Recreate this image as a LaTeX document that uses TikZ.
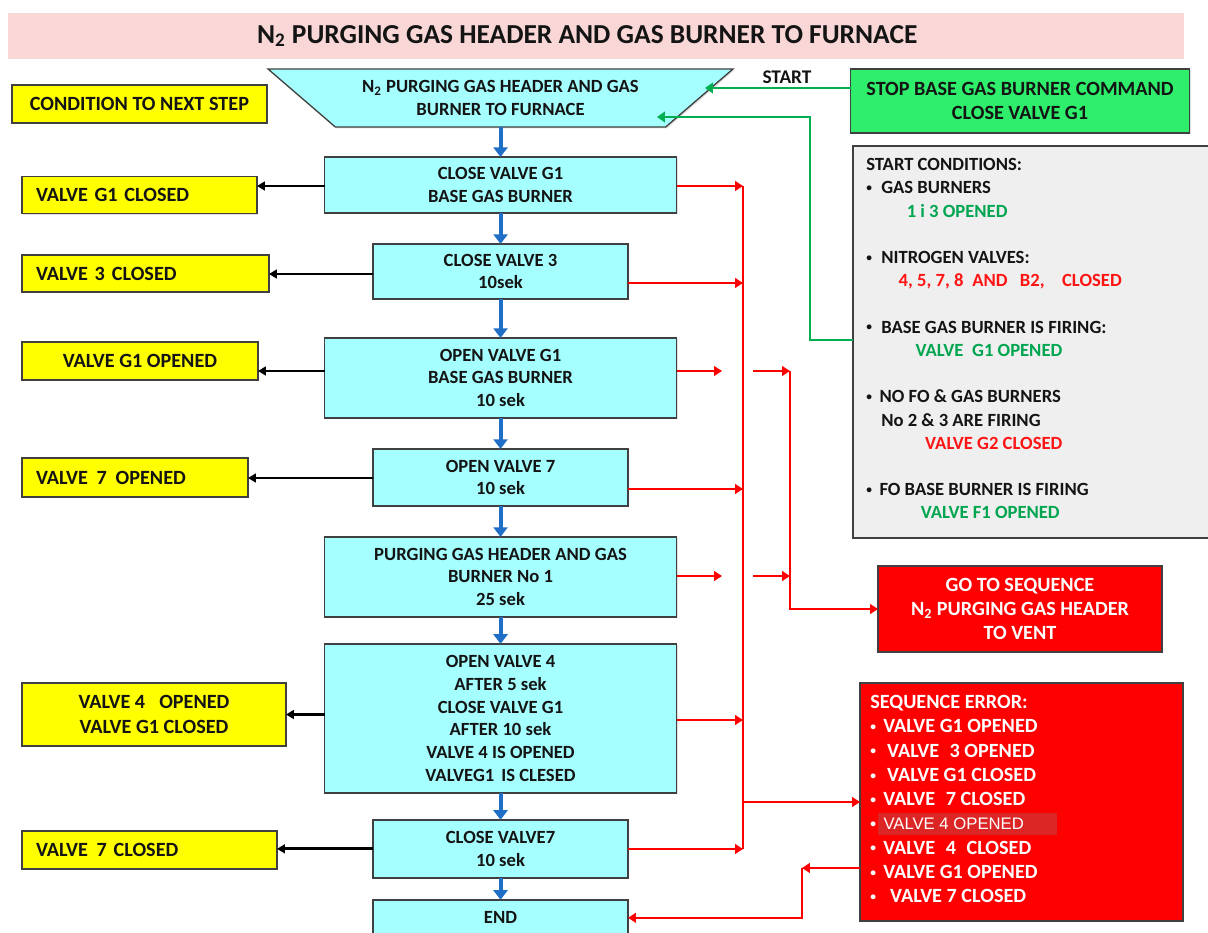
\documentclass[tikz,border=0pt]{standalone}
\usepackage{fontspec}
\setmainfont{Carlito}
\newfontfamily\arialfont{Liberation Sans}
\usetikzlibrary{positioning,shapes.geometric,arrows.meta,shadows}

\definecolor{titlepink}{HTML}{F8D7D6}
\definecolor{stepcyan}{HTML}{A6FFFF}
\definecolor{condyellow}{HTML}{FFFF00}
\definecolor{cmdgreen}{HTML}{2EEE6C}
\definecolor{condgrey}{HTML}{EFEFEF}
\definecolor{errred}{HTML}{FF0000}
\definecolor{errhl}{HTML}{DC2626}
\definecolor{okgreen}{HTML}{00A550}
\definecolor{badred}{HTML}{FF1414}
\definecolor{linegreen}{HTML}{00B050}
\definecolor{lineblue}{HTML}{1F6FC6}
\definecolor{boxline}{HTML}{404040}
\definecolor{ink}{HTML}{141414}

\newcommand{\itemdot}[1]{\makebox[#1][l]{\raisebox{1.2pt}{\fontsize{6.5}{7}\selectfont\textbullet}}}

\tikzset{
  plainbox/.style={draw=boxline, line width=0.75pt, outer sep=0pt, rectangle, drop shadow={shadow xshift=0.8pt, shadow yshift=-0.8pt, opacity=0.25}},
  stepbox/.style={plainbox, fill=stepcyan, text=ink, align=center, inner sep=1pt, font=\bfseries\fontsize{10.6}{12.9}\selectfont},
  widestep/.style={stepbox, minimum width=7.04cm},
  narrowstep/.style={stepbox, minimum width=5.1cm},
  yellowbox/.style={plainbox, fill=condyellow, text=ink, align=center, inner xsep=0.28cm, inner ysep=1pt, font=\bfseries\fontsize{11.5}{14}\selectfont},
  yellowleft/.style={yellowbox, align=left},
  redbox/.style={plainbox, fill=errred, text=white, align=center, font=\bfseries\fontsize{11.5}{13.6}\selectfont},
  blueflow/.style={draw=lineblue, line width=2.3pt, -{Triangle[length=5.5pt,width=8pt]}},
  condarrow/.style={draw=black, line width=1.6pt, -{Triangle[length=4.5pt,width=5pt]}},
  errarrow/.style={draw=errred, line width=1.4pt, -{Triangle[length=4.5pt,width=5.5pt]}},
  errline/.style={draw=errred, line width=1.4pt},
  startarrow/.style={draw=linegreen, line width=1.7pt, -{Triangle[length=4.5pt,width=6pt]}}
}

\begin{document}
\begin{tikzpicture}[x=0.02cm, y=-0.02cm]
\useasboundingbox (0,0) rectangle (1208,933);

\node (title) [fill=titlepink, minimum width=23.52cm, minimum height=0.92cm, text=ink, font=\bfseries\fontsize{15.6}{18}\selectfont] at (596,36) {\hspace*{-10pt}N\textsubscript{2} PURGING GAS HEADER AND GAS BURNER TO FURNACE};

% main sequence
\node (start) [plainbox, trapezium, shape border rotate=180, trapezium angle=32, trapezium stretches body, minimum width=9.3cm, minimum height=1.16cm, inner xsep=0pt, inner ysep=2pt, fill=stepcyan, text=ink, align=center, font=\bfseries\fontsize{10.6}{12.9}\selectfont] at (500.5,98) {N\textsubscript{2} PURGING GAS HEADER AND GAS\\BURNER TO FURNACE};
\node (closeg) [widestep, minimum height=1.12cm, below=0.6cm of start] {CLOSE VALVE G1\\BASE GAS BURNER};
\node (closethree) [narrowstep, minimum height=1.1cm, below=0.62cm of closeg] {CLOSE VALVE 3\\10sek};
\node (openg) [widestep, minimum height=1.6cm, below=0.78cm of closethree] {OPEN VALVE G1\\BASE GAS BURNER\\10 sek};
\node (openseven) [narrowstep, minimum height=1.14cm, below=0.62cm of openg] {OPEN VALVE 7\\10 sek};
\node (purge) [widestep, minimum height=1.6cm, below=0.62cm of openseven] {PURGING GAS HEADER AND GAS\\BURNER No 1\\25 sek};
\node (openfour) [widestep, minimum height=2.98cm, below=0.54cm of purge] {OPEN VALVE 4\\AFTER 5 sek\\CLOSE VALVE G1\\AFTER 10 sek\\VALVE 4 IS OPENED\\VALVEG1\hspace{4pt}IS CLESED};
\node (closeseven) [narrowstep, minimum height=1.16cm, below=0.54cm of openfour] {CLOSE VALVE7\\10 sek};
\node (endbox) [narrowstep, minimum height=0.72cm, below=0.44cm of closeseven] {END};

\draw [blueflow] (start.south) -- (closeg.north);
\draw [blueflow] (closeg) -- (closethree);
\draw [blueflow] (closethree) -- (openg);
\draw [blueflow] (openg) -- (openseven);
\draw [blueflow] (openseven) -- (purge);
\draw [blueflow] (purge) -- (openfour);
\draw [blueflow] (openfour) -- (closeseven);
\draw [blueflow] (closeseven) -- (endbox);

% conditions to next step
\node (cond) [yellowbox, minimum width=5.1cm, minimum height=0.76cm] at (139.5,104) {CONDITION TO NEXT STEP};
\node (yg1c) [yellowleft, text width=4.14cm, minimum height=0.74cm] at (139.5,195) {VALVE G1 CLOSED};
\node (ythreec) [yellowleft, text width=4.38cm, minimum height=0.74cm] at (145.5,273.5) {VALVE 3\hspace{4pt}CLOSED};
\node (yg1o) [yellowbox, minimum width=4.72cm, minimum height=0.76cm] at (140,361) {VALVE G1 OPENED};
\node (ysevenо) [yellowleft, text width=3.96cm, minimum height=0.78cm] at (135,477.5) {VALVE\hspace{5pt}7\hspace{5pt}OPENED};
\node (yfouro) [yellowbox, minimum width=5.28cm, minimum height=1.26cm] at (154,714.5) {VALVE 4\hspace{8pt}OPENED\\VALVE G1 CLOSED};
\node (ysevenc) [yellowleft, text width=4.54cm, minimum height=0.76cm] at (149.5,850) {VALVE\hspace{5pt}7 CLOSED};

\draw [condarrow] (closeg.west |- 0,186) -- (yg1c.east |- 0,186);
\draw [condarrow] (closethree.west |- 0,274) -- (ythreec.east |- 0,274);
\draw [condarrow] (openg.west |- 0,371) -- (yg1o.east |- 0,371);
\draw [condarrow] (openseven.west |- 0,478) -- (ysevenо.east |- 0,478);
\draw [condarrow] (openfour.west |- yfouro.east) -- (yfouro.east);
\draw [condarrow] (closeseven.west) -- (ysevenc.east |- closeseven.west);

% start command and start conditions
\node (stopcmd) [plainbox, fill=cmdgreen, minimum width=6.78cm, minimum height=1.28cm, text=ink, align=center, font=\bfseries\fontsize{11.5}{13.6}\selectfont] at (1020,101) {STOP BASE GAS BURNER COMMAND\\CLOSE VALVE G1};
\node (startlbl) [text=ink, font=\bfseries\fontsize{11}{13}\selectfont] at (787,77) {START};
\node (condbox) [plainbox, fill=condgrey, minimum width=7.14cm, minimum height=7.84cm] at (1031.5,342) {};
\node (condtext) [anchor=north west, inner sep=0pt, align=left, text=ink, font=\bfseries\fontsize{10.6}{13.3}\selectfont] at (866,158) {START CONDITIONS:\\
\itemdot{8.5pt}GAS BURNERS\\
\hspace*{23pt}\textcolor{okgreen}{1 i 3 OPENED}\\[13pt]
\itemdot{8.5pt}NITROGEN VALVES:\\
\hspace*{18.4pt}\textcolor{badred}{4, 5, 7, 8\hspace{5pt}AND\hspace{7pt}B2,\hspace{10pt}CLOSED}\\[13pt]
\itemdot{8.5pt}BASE GAS BURNER IS FIRING:\\
\hspace*{28pt}\textcolor{okgreen}{VALVE\hspace{5pt}G1 OPENED}\\[13pt]
\itemdot{7.5pt}NO FO \& GAS BURNERS\\
\hspace*{8.5pt}No 2 \& 3 ARE FIRING\\
\hspace*{33.5pt}\textcolor{badred}{VALVE G2 CLOSED}\\[13pt]
\itemdot{7.5pt}FO BASE BURNER IS FIRING\\
\hspace*{31pt}\textcolor{okgreen}{VALVE F1 OPENED}};

\coordinate (startin1) at (705,88);
\coordinate (startin2) at (657,117);
\coordinate (greenbend) at (810,340);
\draw [startarrow] (stopcmd.west |- startin1) -- (startin1);
\draw [startarrow] (condbox.west |- greenbend) -- (greenbend) |- (startin2);

% error handling
\node (vent) [redbox, minimum width=5.68cm, minimum height=1.72cm] at (1020,609) {GO TO SEQUENCE\\N\textsubscript{2} PURGING GAS HEADER\\TO VENT};
\node (seqerr) [redbox, minimum width=6.46cm, minimum height=4.76cm] at (1021.5,802) {};
\node (errtext) [anchor=north west, inner sep=0pt, align=left, text=white, font=\bfseries\fontsize{11.5}{13.8}\selectfont] at (870,695) {SEQUENCE ERROR:\\
\itemdot{7.4pt}VALVE G1 OPENED\\
\itemdot{9.6pt}VALVE\hspace{6pt}3 OPENED\\
\itemdot{9.6pt}VALVE G1 CLOSED\\
\itemdot{7.4pt}VALVE\hspace{6pt}7 CLOSED\\
\itemdot{4.5pt}\smash{\colorbox{errhl}{\makebox[96pt][l]{\arialfont\mdseries\fontsize{9.5}{11}\selectfont VALVE 4 OPENED}}}\\
\itemdot{7.4pt}VALVE\hspace{6pt}4\hspace{6pt}CLOSED\\
\itemdot{7.4pt}VALVE G1 OPENED\\
\itemdot{11.3pt}VALVE 7 CLOSED};

\coordinate (busa1) at (743,186);
\coordinate (busa2) at (743,283);
\coordinate (busa4) at (743,489);
\coordinate (busa6) at (743,720);
\coordinate (busa7) at (743,849);
\draw [errline] (busa1) -- (busa7);
\draw [errarrow] (closeg.east |- busa1) -- (busa1);
\draw [errarrow] (closethree.east |- busa2) -- (busa2);
\draw [errarrow] (openseven.east |- busa4) -- (busa4);
\draw [errarrow] (openfour.east |- busa6) -- (busa6);
\draw [errarrow] (closeseven.east |- busa7) -- (busa7);
\draw [errarrow] (busa1 |- seqerr.west) -- (seqerr.west);

\coordinate (stub3a) at (722,371);
\coordinate (stub3b) at (753,371);
\coordinate (busb3) at (790,371);
\coordinate (stub5a) at (722,576);
\coordinate (stub5b) at (753,576);
\coordinate (busb5) at (790,576);
\draw [errarrow] (openg.east |- stub3a) -- (stub3a);
\draw [errarrow] (stub3b) -- (busb3);
\draw [errarrow] (purge.east |- stub5a) -- (stub5a);
\draw [errarrow] (stub5b) -- (busb5);
\draw [errarrow] (busb3) |- (vent.west);

\coordinate (errback) at (802,868);
\draw [errarrow] (seqerr.west |- errback) -- (errback);
\draw [errarrow] (errback) |- (endbox.east);
\end{tikzpicture}
\end{document}
